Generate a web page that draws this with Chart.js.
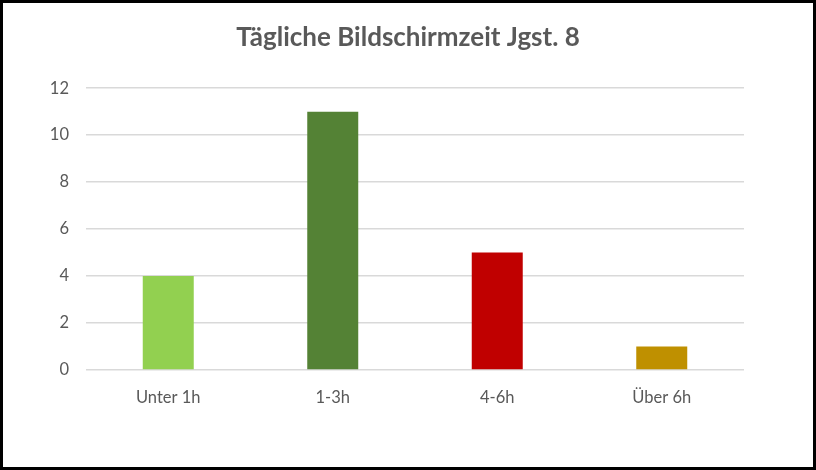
<!DOCTYPE html>
<html>
<head>
<meta charset="utf-8">
<script src="https://cdn.jsdelivr.net/npm/chart.js@4"></script>
<style>
html,body{margin:0;padding:0;background:#fff;}
#wrap{position:relative;width:816px;height:470px;}
</style>
</head>
<body>
<div id="wrap"><canvas id="c" width="816" height="470"></canvas></div>
<script>
const categories = ["Unter 1h", "1-3h", "4-6h", "Über 6h"];
const values = [4, 11, 5, 1];
const barColors = ["#92D050", "#548235", "#C00000", "#BF9000"];
const yTicks = [0, 2, 4, 6, 8, 10, 12];
const titleText = "Tägliche Bildschirmzeit Jgst. 8";

const borderPlugin = {
  id: 'frame',
  afterDraw(chart) {
    const ctx = chart.ctx;
    ctx.save();
    ctx.strokeStyle = '#000';
    ctx.lineWidth = 3;
    ctx.strokeRect(1.5, 1.5, chart.width - 3, chart.height - 3);
    ctx.restore();
  }
};

new Chart(document.getElementById('c'), {
  type: 'bar',
  data: {
    labels: categories,
    datasets: [{
      data: values,
      backgroundColor: barColors,
      borderWidth: 0,
      categoryPercentage: 1,
      barPercentage: 0.31
    }]
  },
  options: {
    responsive: false,
    animation: false,
    devicePixelRatio: 1,
    layout: { padding: 0 },
    plugins: {
      legend: { display: false },
      tooltip: { enabled: false },
      title: {
        display: true,
        text: titleText,
        color: '#595959',
        font: { family: 'Lato', size: 26, weight: 'bold', lineHeight: 1.2 },
        padding: { top: 22, bottom: 35 }
      }
    },
    scales: {
      x: {
        grid: { display: false, drawTicks: false },
        border: { display: false },
        ticks: { color: '#595959', font: { family: 'Lato', size: 16.5 }, padding: 18 },
        afterFit(s) { s.height = 100; }
      },
      y: {
        min: 0, max: 12,
        afterBuildTicks(s) { s.ticks = yTicks.map(v => ({ value: v })); },
        grid: { color: '#d9d9d9', lineWidth: 1.5, drawTicks: false },
        border: { display: false },
        ticks: { color: '#595959', font: { family: 'Lato', size: 16.5 }, padding: 17 },
        afterFit(s) { s.width = 86; }
      },
      yRight: {
        position: 'right',
        min: 0, max: 12,
        grid: { display: false, drawTicks: false },
        border: { display: false },
        ticks: { display: false },
        afterFit(s) { s.width = 72; }
      }
    }
  },
  plugins: [borderPlugin]
});
</script>
</body>
</html>
